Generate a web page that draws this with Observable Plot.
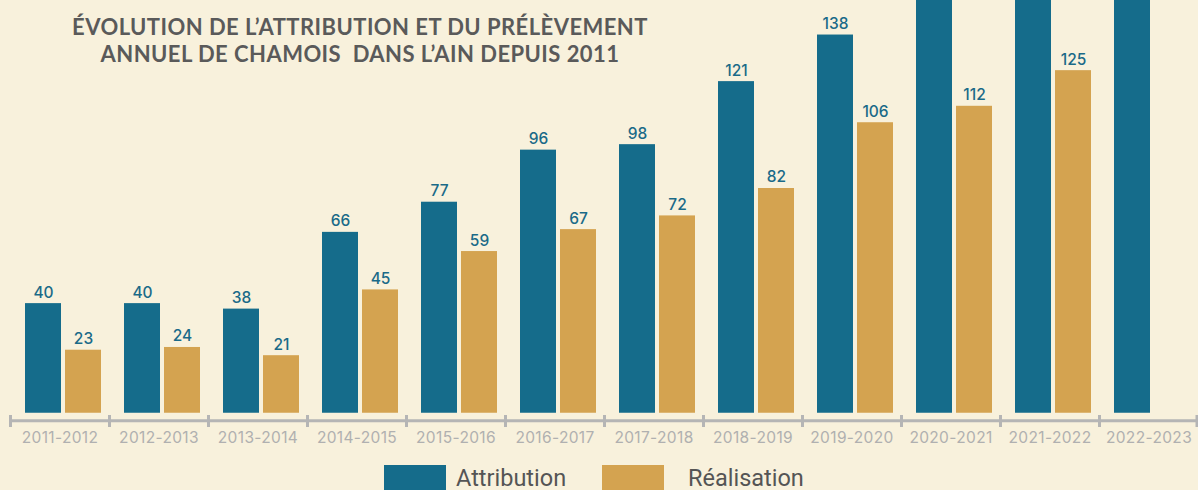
<!DOCTYPE html>
<html>
<head>
<meta charset="utf-8">
<script src="https://cdn.jsdelivr.net/npm/d3@7"></script>
<script src="https://cdn.jsdelivr.net/npm/@observablehq/plot@0.6"></script>
<style>
  html, body { margin: 0; padding: 0; background: #f8f1dc; overflow: hidden; }
  #wrap { position: relative; width: 1198px; height: 490px; }
  #title { position: absolute; left: 0; top: 13px; width: 720px; text-align: center;
    font-family: Lato, sans-serif; font-weight: 700; font-size: 22px; line-height: 27px;
    color: #5a5a5a; letter-spacing: 0.45px; }
  #legend { position: absolute; top: 465px; left: 0; width: 1198px; height: 30px;
    font-family: Roboto, sans-serif; font-size: 23.5px; color: #555; }
  .sw { position: absolute; top: 0; width: 62px; height: 30px; }
  .lt { position: absolute; top: 0px; line-height: 26px; }
</style>
</head>
<body>
<div id="wrap">
  <div id="chart"></div>
  <div id="title">ÉVOLUTION DE L’ATTRIBUTION ET DU PRÉLÈVEMENT<br>ANNUEL DE CHAMOIS&nbsp; DANS L’AIN DEPUIS 2011</div>
  <div id="legend"></div>
</div>
<script>
const seasons = ["2011-2012","2012-2013","2013-2014","2014-2015","2015-2016","2016-2017",
  "2017-2018","2018-2019","2019-2020","2020-2021","2021-2022","2022-2023"];
const attribution = [40, 40, 38, 66, 77, 96, 98, 121, 138, 155, 160, 162];
const realisation = [23, 24, 21, 45, 59, 67, 72, 82, 106, 112, 125, null];
const seriesNames = ["Attribution", "Réalisation"];
const colors = ["#156c8b", "#d4a350"];
const yTop = 150.6;

const rowsA = seasons.map((s, i) => ({season: s, value: attribution[i]}));
const rowsR = seasons.map((s, i) => ({season: s, value: realisation[i]})).filter(d => d.value != null);
const lastSeason = [seasons[seasons.length - 1]];
// labels of bars running past the top of the picture are not visible in the reference
const visible = d => d.value < yTop - 6;

const axisColor = "#b5b5b5";
const labelColor = "#1a6a88";
const labelFont = {fill: labelColor, fontSize: 15.5, fontWeight: 500, fontFamily: "Inter, sans-serif"};

const chart = Plot.plot({
  width: 1198,
  height: 460,
  marginTop: 0,
  marginBottom: 33,
  marginLeft: 9.5,
  marginRight: 0.5,
  style: {background: "transparent", overflow: "hidden"},
  x: {domain: seasons, padding: 0, label: null},
  y: {domain: [-5.2, yTop], axis: null},
  marks: [
    Plot.barY(rowsA, {x: "season", y: "value", fill: colors[0], insetLeft: 15, insetRight: 48}),
    Plot.barY(rowsR, {x: "season", y: "value", fill: colors[1], insetLeft: 55, insetRight: 8}),
    Plot.text(rowsA.filter(visible), {x: "season", y: "value", text: d => String(d.value), dx: -16.5, dy: -11, ...labelFont}),
    Plot.text(rowsR.filter(visible), {x: "season", y: "value", text: d => String(d.value), dx: 23.5, dy: -11, ...labelFont}),
    Plot.ruleY([0], {stroke: axisColor, strokeWidth: 3, dy: 7.5}),
    Plot.ruleX(seasons, {x: d => d, dx: -49.5, stroke: axisColor, strokeWidth: 3, insetTop: 415}),
    Plot.ruleX(lastSeason, {x: d => d, dx: 48, stroke: axisColor, strokeWidth: 3, insetTop: 415}),
    Plot.axisX({tickSize: 0, tickPadding: 4, fontSize: 15.5, fill: "#b0b0b0",
      fontFamily: "Inter, sans-serif", label: null})
  ]
});
chart.querySelectorAll("g[aria-label='x-axis tick label'] text").forEach(t => t.setAttribute("letter-spacing", "0.35"));
document.getElementById("chart").appendChild(chart);

const legend = document.getElementById("legend");
const legendPos = [{sw: 384, tx: 456}, {sw: 602, tx: 688}];
seriesNames.forEach((name, i) => {
  const sw = document.createElement("div");
  sw.className = "sw"; sw.style.left = legendPos[i].sw + "px"; sw.style.background = colors[i];
  const t = document.createElement("div");
  t.className = "lt"; t.style.left = legendPos[i].tx + "px"; t.textContent = name;
  legend.appendChild(sw); legend.appendChild(t);
});
</script>
</body>
</html>
